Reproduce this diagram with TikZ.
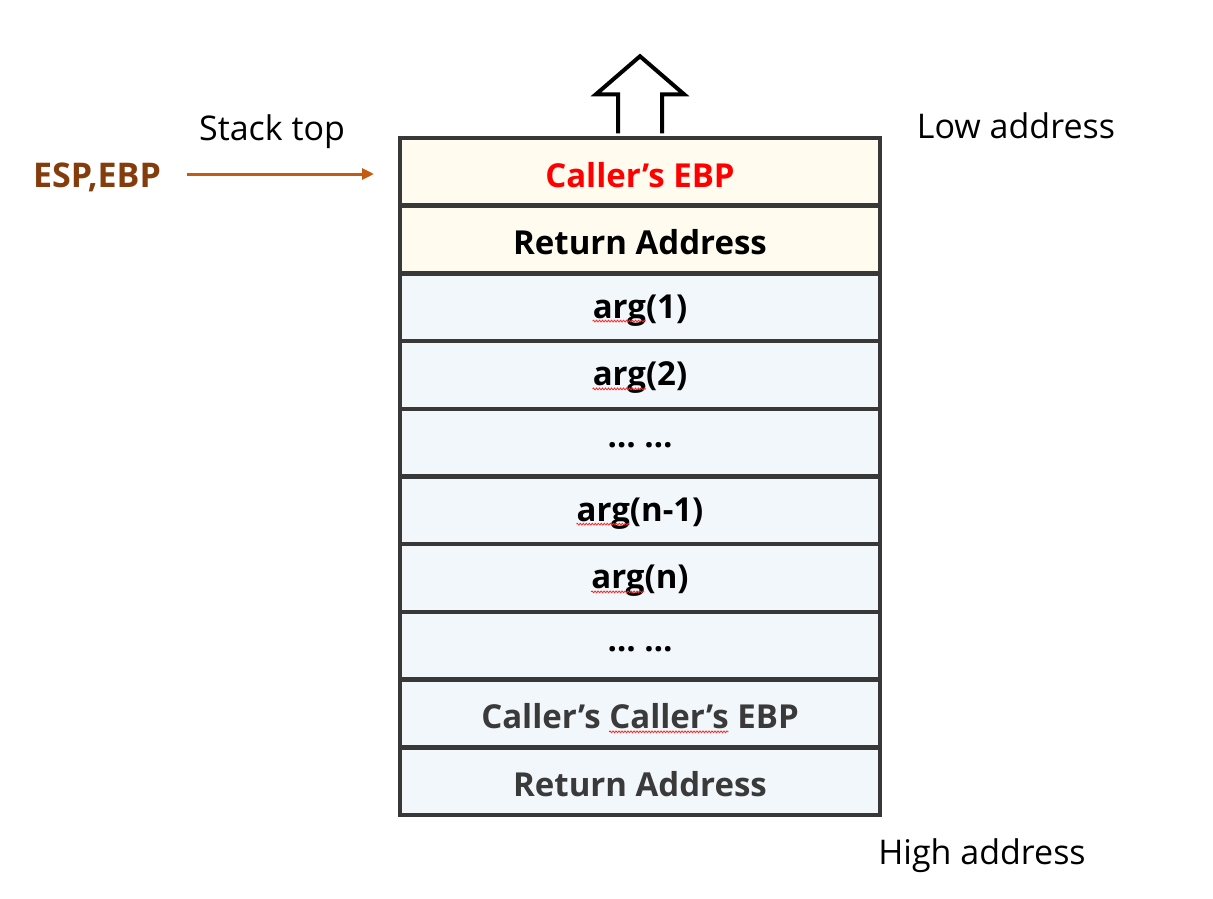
\documentclass[tikz,border=0pt]{standalone}
\usepackage{fontspec}
\setmainfont{Open Sans}[BoldFont={* Bold}]
\usetikzlibrary{arrows.meta,decorations.pathmorphing}
\definecolor{cellline}{HTML}{383838}
\definecolor{cream}{HTML}{FFFBEF}
\definecolor{pale}{HTML}{F2F7FB}
\definecolor{espcol}{HTML}{843C0C}
\definecolor{arrcol}{HTML}{C55A11}
\definecolor{darktxt}{HTML}{3A3A3A}
\definecolor{redtxt}{HTML}{FF0000}
\newcommand\cellfont{\fontsize{33}{39}\selectfont\bfseries}
\newlength\argw
\newlength\callw
\settowidth\argw{\cellfont arg}
\settowidth\callw{\cellfont Caller’s}
\newlength\prew
\settowidth\prew{\cellfont Caller’s }
\begin{document}
\begin{tikzpicture}[x=1pt,y=-1pt,
  cell/.style={draw=cellline, line width=4.5pt, minimum width=480pt, minimum height=67.7pt,
    inner sep=0pt},
  topcell/.style={cell, fill=cream},
  lowcell/.style={cell, fill=pale},
  ctext/.style={font=\cellfont, inner sep=0pt, yshift=-3pt},
  lbl/.style={font=\fontsize{34}{40}\selectfont, inner sep=0pt},
  espstyle/.style={font=\fontsize{34}{40}\selectfont\bfseries, text=espcol, inner sep=0pt},
  esparrow/.style={draw=arrcol, line width=3pt, -{Triangle[length=12pt,width=11pt]}},
  uparrow/.style={draw=black, line width=4pt, fill=white, line join=miter},
  squig/.style={draw=red!85, line width=0.8pt, decorate,
    decoration={snake, amplitude=0.9pt, segment length=3pt}}]
\useasboundingbox (0,0) rectangle (1213,899);
\fill[white] (0,0) rectangle (1213,899);

\node[topcell] (r1) at (640,171.85) {};
\node[topcell] (r2) at (640,239.55) {};
\node[lowcell] (r3) at (640,307.25) {};
\node[lowcell] (r4) at (640,374.95) {};
\node[lowcell] (r5) at (640,442.65) {};
\node[lowcell] (r6) at (640,510.35) {};
\node[lowcell] (r7) at (640,578.05) {};
\node[lowcell] (r8) at (640,645.75) {};
\node[lowcell] (r9) at (640,713.45) {};
\node[lowcell] (r10) at (640,781.15) {};

\node[ctext, text=redtxt] (t1) at (r1) {Caller’s EBP};
\node[ctext] (t2) at (r2) {Return Address};
\node[ctext] (t3) at (r3) {arg(1)};
\node[ctext] (t4) at (r4) {arg(2)};
\node[ctext] (t5) at (r5) {… …};
\node[ctext] (t6) at (r6) {arg(n-1)};
\node[ctext] (t7) at (r7) {arg(n)};
\node[ctext] (t8) at (r8) {… …};
\node[ctext, text=darktxt] (t9) at (r9) {Caller’s Caller’s EBP};
\node[ctext, text=darktxt] (t10) at (r10) {Return Address};

\foreach \t in {t3,t4,t6,t7}{
  \draw[squig] ([yshift=-3pt]\t.base west) -- ++(\argw,0);
}
\draw[squig] ([xshift=\prew,yshift=-3pt]t9.base west) -- ++(\callw,0);

\draw[uparrow] ([xshift=-22pt,yshift=2.5pt]r1.north) -- ++(0,-39) -- ++(-22,0) -- ++(44,-38)
  -- ++(44,38) -- ++(-22,0) -- ++(0,39);

\node[lbl] (stacktop) at (272,132) {Stack top};
\node[espstyle] (esp) at (97,177) {ESP,EBP};
\coordinate (espend) at (374,174);
\coordinate (espstart) at (187,174);
\draw[esparrow] (espstart) -- (espend);
\node[lbl] (low) at (1016,126) {Low address};
\node[lbl] (high) at (982,856) {High address};
\end{tikzpicture}
\end{document}
